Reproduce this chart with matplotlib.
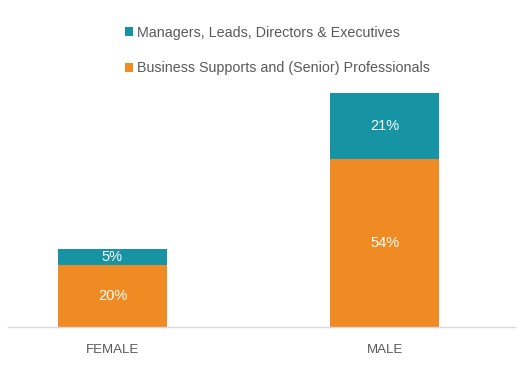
import matplotlib.pyplot as plt

# data
categories = ['FEMALE', 'MALE']
professionals = [20, 54]
managers = [5, 21]
series_names = ['Managers, Leads, Directors & Executives',
                'Business Supports and (Senior) Professionals']

teal = '#1794A4'
orange = '#F08B23'
grey = '#595959'

plt.rcParams['font.family'] = ['Liberation Sans', 'DejaVu Sans']

fig = plt.figure(figsize=(5.18, 3.72), dpi=100)
ax = fig.add_axes([8 / 518, 45 / 372, 507 / 518, 234 / 372])

x = range(len(categories))
b1 = ax.bar(x, professionals, width=0.4, color=orange, label=series_names[1])
b2 = ax.bar(x, managers, width=0.4, bottom=professionals, color=teal,
            label=series_names[0])

for rect, v in zip(b1, professionals):
    ax.text(rect.get_x() + rect.get_width() / 2, rect.get_y() + v / 2,
            f'{v}%', ha='center', va='center', color='white', fontsize=10.5)
for rect, v, b in zip(b2, managers, professionals):
    ax.text(rect.get_x() + rect.get_width() / 2, b + v / 2,
            f'{v}%', ha='center', va='center', color='white', fontsize=10.5)

ax.set_xlim(-0.383, 1.477)
ax.set_ylim(0, 75)
ax.set_xticks(list(x))
ax.set_xticklabels(categories, color=grey, fontsize=9.5)
ax.tick_params(axis='x', length=0, pad=12)
ax.set_yticks([])
for s in ['top', 'right', 'left']:
    ax.spines[s].set_visible(False)
ax.spines['bottom'].set_color('#D9D9D9')
ax.spines['bottom'].set_linewidth(1)

fig.legend(handles=[b2, b1], labels=[series_names[0], series_names[1]],
           loc='upper left', bbox_to_anchor=(119 / 518, 1 - 20 / 372),
           frameon=False, fontsize=10.25, labelcolor=grey,
           handlelength=0.6, handleheight=0.6, handletextpad=0.25,
           labelspacing=1.5, borderaxespad=0)

fig.savefig('out.png', dpi=100)
